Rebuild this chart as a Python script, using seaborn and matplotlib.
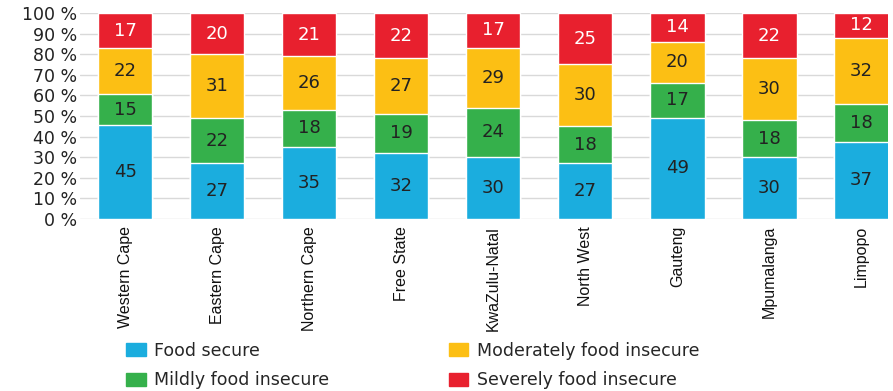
import numpy as np
import pandas as pd
import matplotlib.pyplot as plt
import seaborn as sns
from matplotlib.patches import Patch

# Data
provinces = ['Western Cape', 'Eastern Cape', 'Northern Cape', 'Free State',
             'KwaZulu-Natal', 'North West', 'Gauteng', 'Mpumalanga', 'Limpopo']
food_secure = [45, 27, 35, 32, 30, 27, 49, 30, 37]
mildly = [15, 22, 18, 19, 24, 18, 17, 18, 18]
moderately = [22, 31, 26, 27, 29, 30, 20, 30, 32]
severely = [17, 20, 21, 22, 17, 25, 14, 22, 12]

categories = ['Food secure', 'Mildly food insecure',
              'Moderately food insecure', 'Severely food insecure']
colors = ['#1badde', '#35b04b', '#fcbf14', '#e8202e']
text_colors = ['#222222', '#222222', '#222222', 'white']

sns.set_style('white')
plt.rcParams['font.family'] = ['DejaVu Sans']

df = pd.DataFrame({'province': provinces, categories[0]: food_secure,
                   categories[1]: mildly, categories[2]: moderately,
                   categories[3]: severely})
vals = df[categories].to_numpy(dtype=float)
vals = vals / vals.sum(axis=1, keepdims=True) * 100
cum = np.cumsum(vals, axis=1)

fig = plt.figure(figsize=(8.93, 3.91), dpi=100)
ax = fig.add_axes([0.0896, 0.44, 0.905, 0.527])

# draw cumulative totals from the top layer down
for i in range(3, -1, -1):
    sns.barplot(x=provinces, y=cum[:, i], color=colors[i], width=0.59,
                saturation=1, ax=ax, zorder=2)

for j in range(len(provinces)):
    for i in range(4):
        mid = cum[j, i] - vals[j, i] / 2
        raw = df[categories[i]].iloc[j]
        ax.text(j, mid, f'{raw}', ha='center', va='center', fontsize=13,
                color=text_colors[i], zorder=3)

ax.set_ylim(0, 100)
ax.set_xlim(-0.49, 8.29)
ax.set_yticks(range(0, 101, 10))
ax.set_yticklabels([f'{t} %' for t in range(0, 101, 10)], fontsize=12.5, color='#222222')
ax.yaxis.grid(True, color='#d9d9d9', linewidth=1, zorder=0)
ax.set_axisbelow(True)
ax.tick_params(axis='y', length=0, pad=2)
ax.tick_params(axis='x', length=0, pad=5)
ax.set_xticks(range(len(provinces)))
ax.set_xticklabels(provinces, rotation=90, fontsize=11.5, family='Liberation Sans', color='#111111')
sns.despine(ax=ax, left=True, bottom=True)

handles = [Patch(color=c) for c in colors]
fig.legend(handles, categories, ncol=2, loc='upper left',
           bbox_to_anchor=(0.128, 0.157), frameon=False, fontsize=12.5,
           handlelength=1.1, handleheight=0.8, handletextpad=0.5,
           columnspacing=6.9, labelspacing=0.67, borderpad=0.2)

fig.savefig('out.png', dpi=100)
